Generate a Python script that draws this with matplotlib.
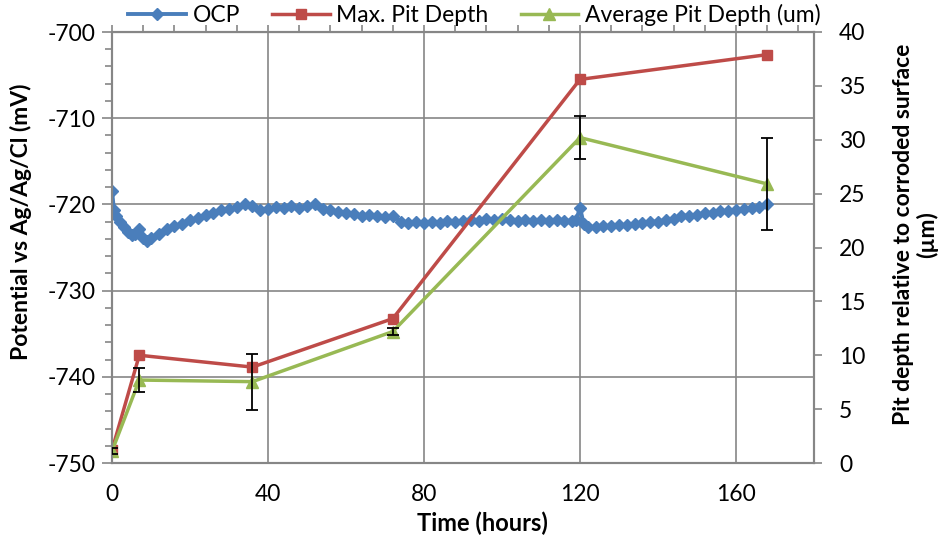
import numpy as np
from matplotlib import pyplot as plt
from matplotlib.ticker import MultipleLocator

plt.rcParams['font.family'] = ['Lato', 'DejaVu Sans']
plt.rcParams['axes.unicode_minus'] = False

# OCP (mV vs Ag/AgCl)
ocp_time = [0, 0.5, 1, 2, 3, 4, 5, 6, 7, 8, 9, 10,
            12, 14, 16, 18, 20, 22, 24, 26, 28, 30, 32, 34, 36, 38, 40,
            42, 44, 46, 48, 50, 52, 54, 56, 58, 60, 62, 64, 66, 68, 70, 72,
            74, 76, 78, 80, 82, 84, 86, 88, 90, 92, 94, 96, 98, 100,
            102, 104, 106, 108, 110, 112, 114, 116, 118, 119, 120, 121, 122,
            124, 126, 128, 130, 132, 134, 136, 138, 140, 142, 144, 146, 148,
            150, 152, 154, 156, 158, 160, 162, 164, 166, 168]
ocp_mv = [-718.4, -720.6, -721.3, -722.0, -722.6, -723.2, -723.5, -723.4, -722.9, -723.9, -724.2, -723.9,
          -723.4, -722.9, -722.5, -722.3, -721.8, -721.6, -721.2, -721.0, -720.7, -720.5, -720.3, -720.0, -720.2, -720.7, -720.5,
          -720.3, -720.4, -720.2, -720.4, -720.2, -719.9, -720.5, -720.7, -720.9, -721.0, -721.1, -721.3, -721.2, -721.4, -721.5, -721.3,
          -722.0, -722.1, -722.0, -722.1, -722.0, -722.1, -721.9, -722.0, -721.9, -721.8, -721.9, -721.7, -721.8, -721.7,
          -721.8, -721.9, -721.8, -721.9, -721.8, -721.9, -721.8, -721.9, -721.9, -721.8, -720.4, -722.3, -722.6,
          -722.6, -722.5, -722.5, -722.4, -722.4, -722.3, -722.2, -722.0, -722.0, -721.8, -721.7, -721.3, -721.3,
          -721.2, -721.0, -721.0, -720.8, -720.8, -720.6, -720.5, -720.4, -720.3, -720.0]
assert len(ocp_time) == len(ocp_mv)

# pit depths (um)
pit_time = [0, 7, 36, 72, 120, 168]
max_depth = [1.2, 10.0, 8.9, 13.4, 35.6, 37.9]
avg_depth = [1.1, 7.7, 7.55, 12.2, 30.2, 25.9]
avg_err = [0.3, 1.1, 2.6, 0.3, 2.0, 4.3]

blue = '#4A7EBB'
red = '#BE4B48'
green = '#98B954'
gray = '#868686'

fig = plt.figure(figsize=(9.46, 5.4), dpi=100)
ax = fig.add_axes([112 / 946, 77 / 540, 702 / 946, 431 / 540])
ax2 = ax.twinx()

l1, = ax.plot(ocp_time, ocp_mv, color=blue, lw=2.8, marker='D', ms=6.5,
              mec=blue, mfc=blue, label='OCP')

l2, = ax2.plot(pit_time, max_depth, color=red, lw=2.5, marker='s', ms=7,
               label='Max. Pit Depth')
l3, = ax2.plot(pit_time, avg_depth, color=green, lw=2.5, marker='^', ms=9,
               label='Average Pit Depth (um)')
ax2.errorbar(pit_time, avg_depth, yerr=avg_err, fmt='none', ecolor='black',
             elinewidth=1.3, capsize=4.5, capthick=1.3, zorder=5)

ax.set_xlim(0, 180)
ax.set_ylim(-750, -700)
ax2.set_ylim(0, 40)

ax.set_xticks([0, 40, 80, 120, 160])
ax.yaxis.set_major_locator(MultipleLocator(10))
ax.yaxis.set_minor_locator(MultipleLocator(2))
ax2.yaxis.set_major_locator(MultipleLocator(5))

ax.grid(True, which='major', color=gray, lw=1.2)
ax.set_axisbelow(True)

for a in (ax, ax2):
    for s in a.spines.values():
        s.set_color(gray)
        s.set_linewidth(1.5)

ax.tick_params(axis='x', length=0, pad=15, labelsize=16.5)
ax.tick_params(axis='y', which='major', length=7, width=1.2, color=gray,
               pad=5, labelsize=16.5)
ax.tick_params(axis='y', which='minor', length=5, width=1.2, color=gray)
ax2.tick_params(axis='y', length=6, width=1.2, color=gray, pad=12, labelsize=16.5)

# top axis: unlabelled ticks every 8 h
top = ax.secondary_xaxis('top')
top.xaxis.set_major_locator(MultipleLocator(8))
top.tick_params(length=5, width=1.2, color=gray, labeltop=False)
top.spines['top'].set_color(gray)

ax.set_xlabel('Time (hours)', fontsize=17, fontweight='bold', labelpad=0)
ax.xaxis.set_label_coords(0.527, -0.113)
ax.set_ylabel('Potential vs Ag/Ag/Cl (mV)', fontsize=16.5, fontweight='bold')
ax.yaxis.set_label_coords(-0.114, 0.56)
ax2.set_ylabel('Pit depth relative to corroded surface\n(µm)', fontsize=16.5,
               fontweight='bold', linespacing=1.15)
ax2.yaxis.set_label_coords(1.112, 0.53)

fig.legend(handles=[l1, l2, l3], loc='center', bbox_to_anchor=(0.5016, 0.972),
           ncol=3, frameon=False, fontsize=16.5, handlelength=2.5,
           handletextpad=0.3, columnspacing=1.4, borderaxespad=0)

fig.savefig('out.png', dpi=100)
